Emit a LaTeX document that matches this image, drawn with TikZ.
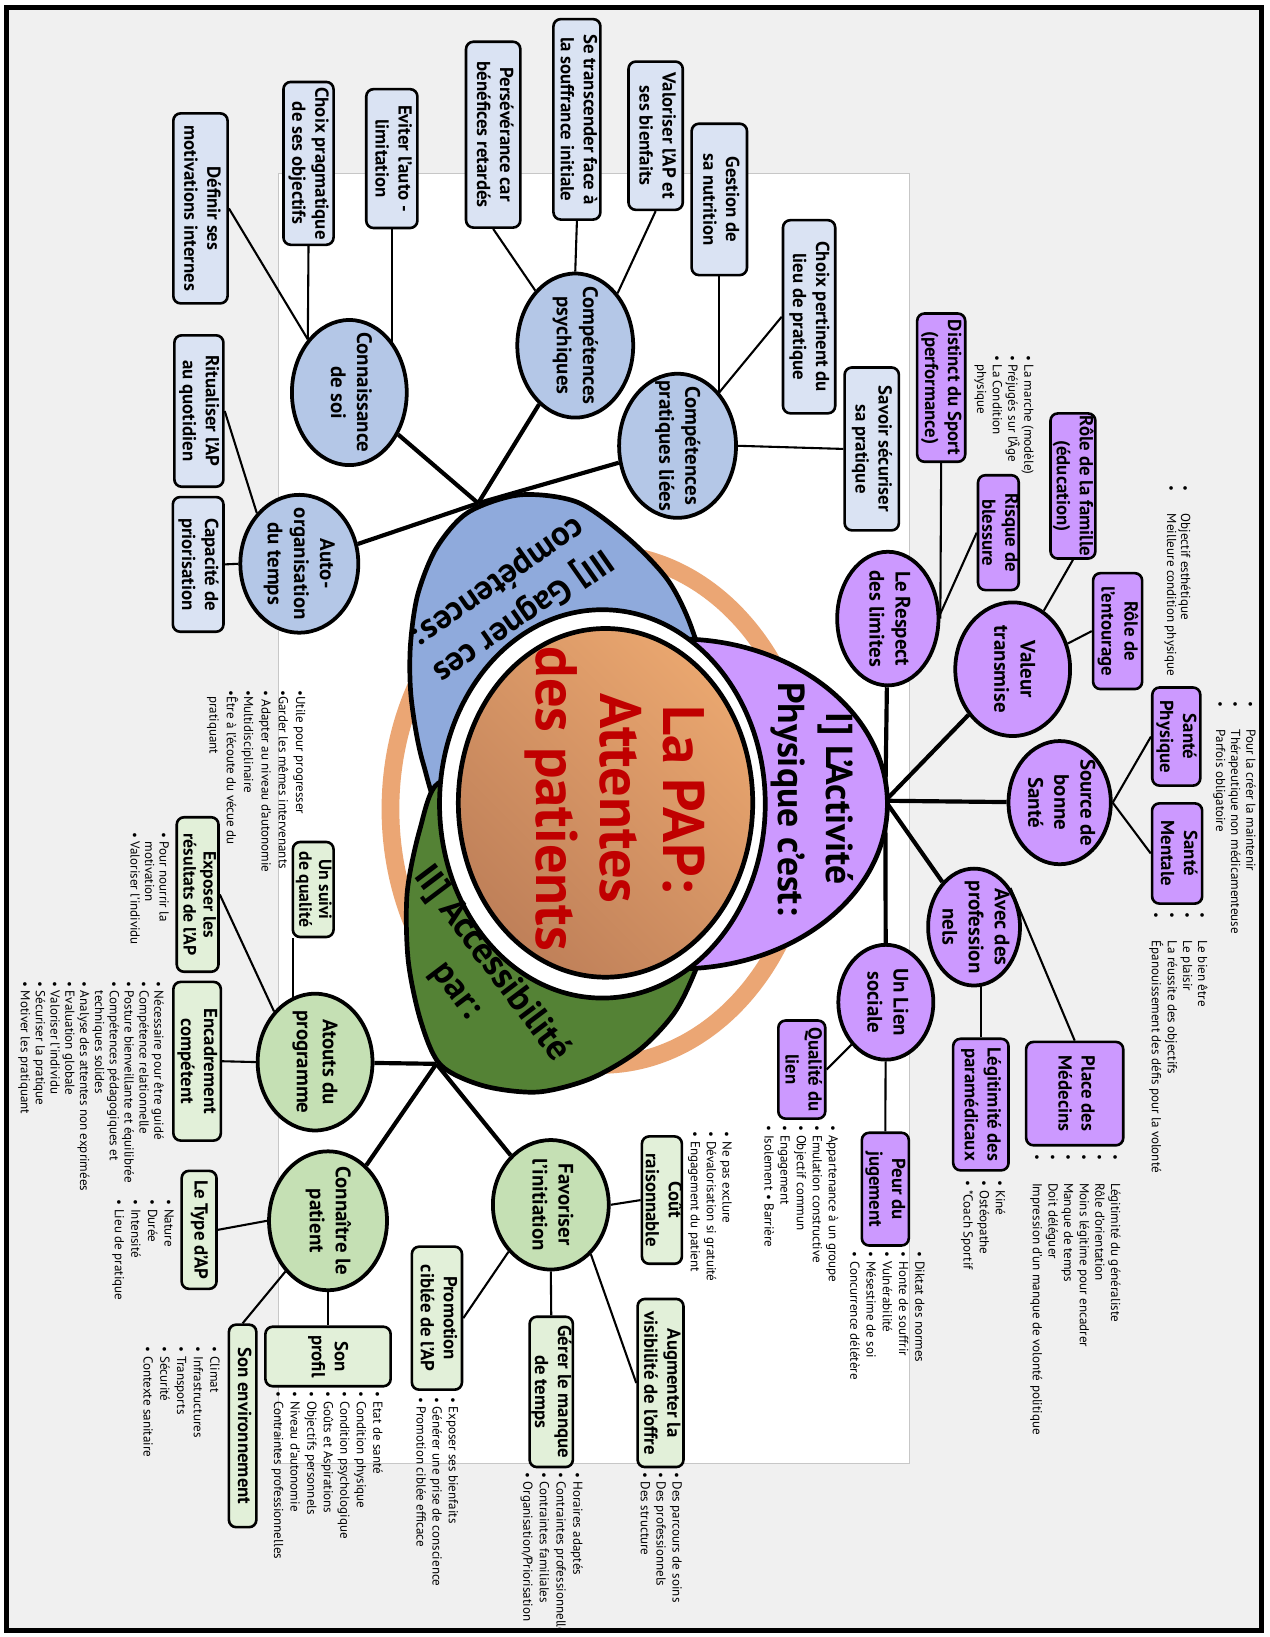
\documentclass[tikz,border=0pt]{standalone}
\usepackage{graphicx}
\usepackage{fontspec}
\setmainfont{PT Sans}
\usetikzlibrary{shapes.geometric}
\pgfdeclarelayer{bg}
\pgfsetlayers{bg,main}
\definecolor{bluepetal}{HTML}{8FAADC}
\definecolor{blueell}{HTML}{B4C7E7}
\definecolor{bluebox}{HTML}{DAE3F3}
\definecolor{purp}{HTML}{CC99FF}
\definecolor{greenpetal}{HTML}{548235}
\definecolor{greenell}{HTML}{C5E0B4}
\definecolor{greenbox}{HTML}{E2F0D9}
\definecolor{ringor}{HTML}{EBA674}
\definecolor{corelight}{HTML}{E9A66F}
\definecolor{coredark}{HTML}{BF8059}
\definecolor{redtxt}{HTML}{C00000}
\definecolor{bggrey}{HTML}{F0F0F0}
\newcommand\vt[1]{\rotatebox{-90}{\begin{tabular}{@{}c@{}}#1\end{tabular}}}
\newcommand\vl[1]{\rotatebox{-90}{\begin{tabular}{@{}l@{}}#1\end{tabular}}}
\newcommand\hb[1]{\makebox[27pt][l]{•}#1}
\newcommand\ellnode[7]{\node[#1, minimum width=#5pt, minimum height=#6pt] (#2) at (#3,#4) {}; \node[etxt] at (#2) {\vt{#7}};}
\newcommand\boxnode[8][]{\node[#2, minimum width=#6pt, minimum height=#7pt] (#3) at (#4,#5) {}; \node[btxt,#1] at (#3) {\vt{#8}};}
\begin{document}
\begin{tikzpicture}[x=1pt,y=-1pt,
  ell/.style={ellipse, draw, line width=3.6pt, inner sep=0pt},
  bell/.style={ell, fill=blueell}, pell/.style={ell, fill=purp}, gell/.style={ell, fill=greenell},
  rbox/.style={rectangle, rounded corners=7pt, draw, line width=2.5pt, inner sep=0pt},
  bbox/.style={rbox, fill=bluebox}, pbox/.style={rbox, fill=purp}, gbox/.style={rbox, fill=greenbox},
  etxt/.style={inner sep=0pt, font=\fontsize{20}{25}\selectfont\bfseries},
  btxt/.style={inner sep=0pt, font=\fontsize{18}{22}\selectfont\bfseries},
  hubline/.style={line width=4pt},
  leaf/.style={line width=2pt},
  petal/.style={line width=4.5pt},
  note/.style={inner sep=0pt, anchor=north east, font=\fontsize{12.5}{15.5}\selectfont}]
\useasboundingbox (0,0) rectangle (1216,1568);
\begin{pgfonlayer}{bg}
  \fill[bggrey] (6,7) rectangle (1208,1562);
  \draw[fill=white, draw=black!22, line width=0.8pt] (267,166) rectangle (871,1402);
\end{pgfonlayer}
% ring and petals
\draw[ringor, line width=17pt] (575,775) ellipse [x radius=201pt, y radius=245pt];
\draw[petal, fill=bluepetal] plot[smooth cycle] coordinates {(405,730) (394,670) (393,620) (400,570) (418,525) (448,491) (498,474) (553,481) (601,515) (640,556) (663,603) (678,665) (655,725) (590,765) (500,790) (430,790)};
\draw[petal, fill=greenpetal] plot[smooth cycle] coordinates {(420,750) (402,795) (390,855) (391,920) (403,978) (422,1020) (463,1040) (515,1046) (566,1033) (612,1006) (646,970) (668,925) (690,860) (650,800) (560,770) (470,752)};
\draw[petal, fill=purp] (650,770) ellipse [x radius=200pt, y radius=158pt];
\draw[petal, fill=white] (577,770) ellipse [x radius=156pt, y radius=186pt];
\shade[top color=corelight, bottom color=coredark, shading angle=-45] (580,769) ellipse [x radius=141pt, y radius=167pt];
\draw[petal] (580,769) ellipse [x radius=141pt, y radius=167pt];
% petal texts
\node[rotate=-90, font=\fontsize{36}{46}\selectfont\bfseries, align=center] (tact) at (778,765) {I] L'Activité\\Physique c'est:};
\node[rotate=-90, font=\fontsize{56}{61}\selectfont\bfseries, text=redtxt, align=center] (tpap) at (589,765) {La PAP:\\Attentes\\des patients};
\node[rotate=-145, font=\fontsize{33}{40}\selectfont\bfseries, align=center] (tgag) at (489,573) {III] Gagner ces\\compétences:};
\node[rotate=-53, font=\fontsize{35}{42}\selectfont\bfseries, align=center] (tacc) at (454,936) {II] Accessibilité\\par:};
% hubs
\coordinate (bhub) at (458,482);
\coordinate (phub) at (848,767);
\coordinate (ghub) at (418,1019);
% blue nodes
\ellnode{bell}{conn}{334.6}{376}{110}{139}{Connaissance\\de soi}
\ellnode{bell}{auto}{286.7}{540}{113}{132}{Auto-\\organisation\\du temps}
\ellnode{bell}{psych}{551}{331}{111}{138}{Compétences\\psychiques}
\ellnode{bell}{prat}{649}{427}{112}{138}{Compétences\\pratiques liées}
\boxnode{bbox}{defi}{192}{199.6}{52}{182}{Définir ses\\motivations internes}
\boxnode{bbox}{choixp}{295.5}{156.5}{48}{156}{Choix pragmatique\\de ses objectifs}
\boxnode{bbox}{evit}{375.3}{151.9}{49}{133}{Eviter l'auto -\\limitation}
\boxnode{bbox}{pers}{472.4}{129}{52}{178}{Persévérance car\\bénéfices retardés}
\boxnode{bbox}{setr}{552.6}{114.3}{45}{192}{Se transcender face à\\la souffrance initiale}
\boxnode{bbox}{valo}{628}{130}{52}{142}{Valoriser l'AP et\\ses bienfaits}
\boxnode{bbox}{gest}{689}{191}{53}{145}{Gestion de\\sa nutrition}
\boxnode{bbox}{choixl}{775}{303.4}{50}{185}{Choix pertinent du\\lieu de pratique}
\boxnode{bbox}{sav}{835}{430}{52}{156}{Savoir sécuriser\\sa pratique}
\boxnode{bbox}{rit}{190.5}{393.7}{47}{145}{Ritualiser l'AP\\au quotidien}
\boxnode{bbox}{cap}{189.8}{540.6}{48.5}{129}{Capacité de\\priorisation}
% purple nodes
\ellnode{pell}{resp}{850.4}{592.5}{97}{128}{Le Respect\\des limites}
\ellnode{pell}{val}{970}{641}{110}{128}{Valeur\\transmise}
\ellnode{pell}{src}{1015}{768.8}{98}{118}{Source de\\bonne\\Santé}
\ellnode{pell}{avec}{933}{888}{88}{112}{Avec des\\profession\\nels}
\ellnode{pell}{lien}{848.5}{960}{91}{110}{Un Lien\\sociale}
\boxnode{pbox}{dist}{901.5}{371.3}{46}{142}{Distinct du Sport\\(performance)}
\boxnode{pbox}{risq}{956.3}{510.2}{39}{110}{Risque de\\blessure}
\boxnode{pbox}{fam}{1027.7}{465.5}{43}{139}{Rôle de la famille\\(éducation)}
\boxnode{pbox}{ent}{1070.5}{604.5}{47}{111}{Rôle de\\l'entourage}
\boxnode{pbox}{sphy}{1126.7}{705.5}{46}{94}{Santé\\Physique}
\boxnode{pbox}{smen}{1127.5}{817.5}{48}{96}{Santé\\Mentale}
\boxnode{pbox}{med}{1029.4}{1047.5}{93}{99}{Place des\\Médecins}
\boxnode{pbox}{legit}{939.5}{1058}{53}{126}{Légitimité des\\paramédicaux}
\boxnode{pbox}{peur}{848}{1139}{45}{108}{Peur du\\jugement}
\boxnode{pbox}{qual}{768}{1024.5}{45}{94}{Qualité du\\lien}
% green nodes
\ellnode{gell}{atouts}{301.8}{1017.3}{110}{131}{Atouts du\\programme}
\ellnode{gell}{kn}{314.2}{1169.3}{113}{133}{Connaître le\\patient}
\ellnode{gell}{fav}{527.6}{1154}{111}{124}{Favoriser\\l'initiation}
\boxnode[font=\fontsize{17}{19}\selectfont\bfseries]{gbox}{suivi}{300}{852}{39}{91}{Un suivi\\de qualité}
\boxnode[font=\fontsize{17}{19}\selectfont\bfseries]{gbox}{expo}{189.3}{856.8}{40}{148}{Exposer les\\résultats de l'AP}
\boxnode{gbox}{enc}{188.8}{1016.5}{45.5}{152}{Encadrement\\compétent}
\boxnode{gbox}{type}{190.7}{1178}{33.4}{113}{Le Type d'AP}
\boxnode{gbox}{prof}{314.2}{1299.3}{120}{57}{Son\\profil}
\boxnode{gbox}{env}{232.4}{1365.8}{26.3}{194}{Son environnement}
\boxnode{gbox}{cout}{634}{1149.5}{38.3}{122}{Coût\\raisonnable}
\boxnode{gbox}{aug}{632.7}{1324.7}{44}{161}{Augmenter la\\visibilité de l'offre}
\boxnode{gbox}{ger}{528}{1333.2}{41.5}{144}{Gérer le manque\\de temps}
\boxnode{gbox}{promo}{418.5}{1262.6}{48}{137}{Promotion\\ciblée de l'AP}
% notes
\node[note, font=\fontsize{12.5}{15}\selectfont] (nA) at (992,340) {\vl{• La marche (modèle)\\• Préjugés sur l'Âge\\• La Condition\\\phantom{• }physique}};
\node[note, font=\fontsize{12.5}{13.5}\selectfont] (nB) at (1141,465) {\vl{\hb{Objectif esthétique}\\\hb{Meilleure condition physique}}};
\node[note, font=\fontsize{12.5}{14.4}\selectfont] (nC) at (1204,672) {\vl{\hb{Pour la créer la maintenir}\\\hb{Thérapeutique non médicamenteuse}\\\hb{Parfois obligatoire}}};
\node[note, font=\fontsize{12.5}{14.5}\selectfont] (nD) at (1158,874) {\vl{\hb{Le bien être}\\\hb{Le plaisir}\\\hb{La réussite des objectifs}\\\hb{Épanouissement des défis pour la volonté}}};
\node[note, font=\fontsize{12.5}{15}\selectfont] (nE) at (1075,1106) {\vl{\hb{Légitimité du généraliste}\\\hb{Rôle d'orientation}\\\hb{Moins légitime pour encadrer}\\\hb{Manque de temps}\\\hb{Doit déléguer}\\\hb{Impression d'un manque de volonté politique}}};
\node[note, font=\fontsize{12.5}{15.5}\selectfont] (nF) at (965,1131) {\vl{• Kiné\\• Ostéopathe\\• *Coach Sportif}};
\node[note, font=\fontsize{12.5}{15.6}\selectfont] (nG) at (888,1199) {\vl{• Diktat des normes\\• Honte de souffrir\\• Vulnérabilité\\• Mésestime de soi\\• Concurrence délétère}};
\node[note, font=\fontsize{12.5}{15.4}\selectfont] (nH) at (805,1078) {\vl{• Appartenance à un groupe\\• Emulation constructive\\• Objectif commun\\• Engagement\\• Isolement • Barrière}};
\node[note, font=\fontsize{12.5}{15.2}\selectfont] (nI) at (703,1084) {\vl{• Ne pas exclure\\• Dévalorisation si gratuité\\• Engagement du patient}};
\node[note, font=\fontsize{12.5}{16.6}\selectfont] (nJ) at (295.5,661) {\vl{•Utile pour progresser\\•Garder les mêmes intervenants\\• Adapter au niveau d'autonomie\\•Multidisciplinaire\\•Être à l'écoute du vécue du\\\phantom{•}pratiquant}};
\node[note, font=\fontsize{12.5}{14}\selectfont] (nK) at (163,797) {\vl{• Pour nourrir la\\\phantom{• }motivation\\• Valoriser l'individu}};
\node[note, font=\fontsize{12.5}{14.2}\selectfont] (nL) at (158,940) {\vl{• Nécessaire pour être guidé\\• Compétence relationnelle\\• Posture bienveillante et équilibrée\\• Compétences pédagogiques et\\\phantom{• }techniques solides\\• Analyse des attentes non exprimées\\• Evaluation globale\\• Valoriser l'individu\\• Sécuriser la pratique\\• Motiver les pratiquant}};
\node[note, font=\fontsize{12.5}{15.9}\selectfont] (nM) at (169,1149) {\vl{• Nature\\• Durée\\• Intensité\\• Lieu de pratique}};
\node[note, font=\fontsize{12.5}{15.85}\selectfont] (nN) at (369,1333) {\vl{• Etat de santé\\• Condition physique\\• Condition psychologique\\• Goûts et Aspirations\\• Objectifs personnels\\• Niveau d'autonomie\\• Contraintes professionnelles}};
\node[note, font=\fontsize{12.5}{16}\selectfont] (nO) at (213,1290) {\vl{• Climat\\• Infrastructures\\• Transports\\• Sécurité\\• Contexte sanitaire}};
\node[note, font=\fontsize{12.5}{15.5}\selectfont] (nP) at (441,1338) {\vl{• Exposer ses bienfaits\\• Générer une prise de conscience\\• Promotion ciblée efficace}};
\node[note, font=\fontsize{12.5}{16}\selectfont] (nQ) at (560.6,1410) {\vl{• Horaires adaptés\\• Contraintes professionnelles\\• Contraintes familiales\\• Organisation/Priorisation}};
\node[note, font=\fontsize{12.5}{15.2}\selectfont] (nR) at (655,1410) {\vl{• Des parcours de soins\\• Des professionnels\\• Des structure}};
% connectors
\coordinate (suivibl) at ([xshift=1.5pt]suivi.south west);
\begin{pgfonlayer}{bg}
  \draw[hubline] (bhub) -- (conn);
  \draw[hubline] (bhub) -- (auto);
  \draw[hubline] (bhub) -- (psych);
  \draw[hubline] (bhub) -- (prat);
  \draw[hubline] (phub) -- (resp);
  \draw[hubline] (phub) -- (val);
  \draw[hubline] (phub) -- (src);
  \draw[hubline] (phub) -- (avec);
  \draw[hubline] (phub) -- (lien);
  \draw[hubline] (ghub) -- (atouts);
  \draw[hubline] (ghub) -- (kn);
  \draw[hubline] (ghub) -- (fav);
  \draw[leaf] (defi.east) -- (conn.128);
  \draw[leaf] (choixp.south) -- (conn.128);
  \draw[leaf] (evit.south) -- (evit.south |- conn.center);
  \draw[leaf] (pers.south) -- (psych.126);
  \draw[leaf] (setr.south) -- (psych.north);
  \draw[leaf] (valo.south) -- (psych.51);
  \draw[leaf] (gest.south) -- (gest.south |- prat.center);
  \draw[leaf] (choixl.west) -- (prat.52);
  \draw[leaf] (sav.west) -- (prat.east);
  \draw[leaf] (rit.east) -- (auto.130);
  \draw[leaf] (cap.east) -- (auto.west);
  \draw[leaf] (dist.south) -- (resp.east);
  \draw[leaf] (risq.west) -- (resp.5);
  \draw[leaf] (fam.south) -- (val.62);
  \draw[leaf] (ent.west) -- (val.25);
  \draw[leaf] (src.east) -- (sphy.west);
  \draw[leaf] (src.east) -- (smen.west);
  \draw[leaf] (med.north) -- (avec.47);
  \draw[leaf] (legit.north) -- (legit.north |- avec.center);
  \draw[leaf] (peur.north) -- (lien);
  \draw[leaf] (qual.east) -- (lien.231);
  \draw[leaf] (suivibl) -- (suivibl |- atouts.center);
  \draw[leaf] (expo.east) -- (atouts.129);
  \draw[leaf] (enc.east) -- (atouts.west);
  \draw[leaf] (type.east) -- (kn.west);
  \draw[leaf] (kn.south) -- (prof.north);
  \draw[leaf] (env.north) -- (kn.230);
  \draw[leaf] (cout.west) -- (fav.east);
  \draw[leaf] (aug.west) -- (fav.309);
  \draw[leaf] (ger.north) -- (fav.south);
  \draw[leaf] (promo.east) -- (fav.228);
\end{pgfonlayer}
% outer margin and frame
\fill[white, even odd rule] (-5,-5) rectangle (1221,1573) (6,7) rectangle (1208,1562);
\draw[line width=5pt] (6,7) rectangle (1208,1562);
\end{tikzpicture}
\end{document}
